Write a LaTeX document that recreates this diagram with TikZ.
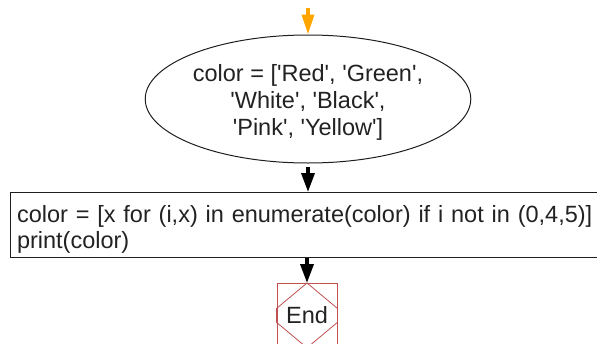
\documentclass[tikz,border=0pt]{standalone}
\usepackage{fontspec}
\setmainfont{Liberation Sans}
\usetikzlibrary{shapes.geometric,arrows.meta}
\definecolor{lineclr}{RGB}{30,30,30}
\definecolor{txtclr}{RGB}{34,34,34}
\definecolor{orangeclr}{RGB}{255,165,0}
\definecolor{endred}{RGB}{192,80,80}
\newcommand{\qt}{\textquotesingle}
\begin{document}
\begin{tikzpicture}[x=1pt,y=-1pt,
  every node/.style={text=txtclr},
  startbox/.style={ellipse, draw=lineclr, line width=1pt, minimum width=280pt, minimum height=128pt, inner sep=0pt, align=center, font=\fontsize{23.5}{27}\selectfont},
  procbox/.style={draw=lineclr, line width=1pt, anchor=north west, minimum width=600pt, minimum height=65pt, inner xsep=6.5pt, inner ysep=2pt, text width=587pt, align=left, font=\fontsize{23.5}{26}\selectfont},
  endbox/.style={draw=endred, line width=0.8pt, minimum width=60pt, minimum height=64pt, inner sep=0pt, anchor=north, font=\fontsize{23.5}{26}\selectfont},
  flowarrow/.style={draw=black, line width=3.5pt, -{Triangle[length=19pt,width=13pt]}},
  entryarrow/.style={draw=orangeclr, line width=3.5pt, -{Triangle[length=20pt,width=12pt]}}
]
\useasboundingbox (0,0) rectangle (597,343);
\coordinate (entry) at (308,8);
\node[startbox] (start) at (308,99) {\rule{0pt}{23pt}color = [\qt Red\qt, \qt Green\qt,\\ \qt White\qt, \qt Black\qt,\\ \qt Pink\qt, \qt Yellow\qt]};
\node[procbox] (proc) at (10,192) {\rule{0pt}{25pt}color = [x for (i,x) in enumerate(color) if i not in (0,4,5)]\\print(color)};
\node[endbox] (end) at (307,283) {End};
\draw[endred, line width=0.8pt] (end.north) -- ([yshift=7pt]end.west) -- ([yshift=-7pt]end.west) -- (end.south) -- ([yshift=-7pt]end.east) -- ([yshift=7pt]end.east) -- cycle;
\draw[entryarrow] (entry) -- (start.north);
\draw[flowarrow] ([yshift=-3pt]start.south) -- (start.south |- proc.north);
\draw[flowarrow] (proc.south -| end.north) -- (end.north);
\end{tikzpicture}
\end{document}
